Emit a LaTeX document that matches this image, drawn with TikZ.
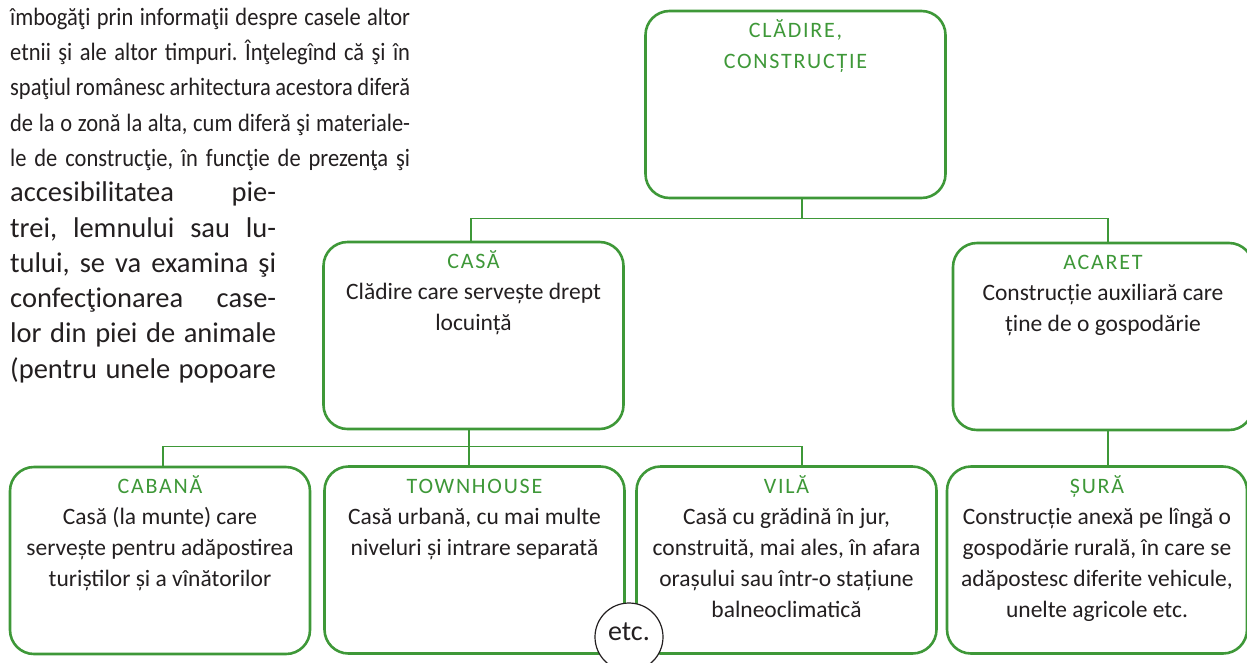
\documentclass[tikz,border=0pt]{standalone}
\usepackage{fontspec}
\setmainfont{Carlito}

\definecolor{leafgreen}{RGB}{62,152,56}
\definecolor{inkgray}{RGB}{35,31,32}

% one justified line of the running text
\newcommand{\fillline}[2]{\makebox[#1][s]{#2}}
% green title on top, definition below, all pinned to the top of the box
\newcommand{\termtext}[2]{\parbox[c][187pt][t]{290pt}{\centering\fontsize{23.5}{31}\selectfont
  \vspace*{5pt}\strut{\color{leafgreen}\fontsize{22}{31}\selectfont\addfontfeatures{LetterSpace=8}#1}\\#2}}

\begin{document}
\frenchspacing
\begin{tikzpicture}[x=1pt, y=-1pt,
    para/.style={inner sep=0pt, align=left, text=inkgray},
    termbox/.style={draw=leafgreen, line width=2.6pt, rounded corners=24pt, fill=white,
      inner xsep=5pt, inner ysep=0pt, text=inkgray},
    link/.style={draw=leafgreen, line width=1.6pt}]
    \useasboundingbox (0,0) rectangle (1247,662);

    % running text on the left
    \node[para, anchor=north west, xscale=0.9, font=\fontsize{25}{35.3}\selectfont] (intro-wide) at (10,0.3) {%
        \strut\fillline{444.4pt}{îmbogăţi prin informaţii despre casele altor}\\
        \fillline{444.4pt}{etnii şi ale altor timpuri. Înţelegînd că şi în}\\
        \fillline{444.4pt}{spaţiul românesc arhitectura acestora diferă}\\
        \fillline{444.4pt}{de la o zonă la alta, cum diferă şi materiale-}\\
        \fillline{444.4pt}{le de construcţie, în funcţie de prezenţa şi}};
    \node[para, anchor=north west, font=\fontsize{28.5}{35.3}\selectfont] (intro-narrow) at (10,176.8) {%
        \strut\fillline{266pt}{accesibilitatea pie-}\\
        \fillline{266pt}{trei, lemnului sau lu-}\\
        \fillline{266pt}{tului, se va examina şi}\\
        \fillline{266pt}{confecţionarea case-}\\
        \fillline{266pt}{lor din piei de animale}\\
        \fillline{266pt}{(pentru unele popoare}};

    % connectors
    \coordinate (bus-top) at (0,218.5);
    \coordinate (bus-low) at (0,446.5);

    \node[termbox] (cladire) at (795.5,104.5) {\parbox[c][187pt][t]{290pt}{\centering
        \vspace*{5pt}{\color{leafgreen}\fontsize{22}{31}\selectfont\addfontfeatures{LetterSpace=8}\strut CLĂDIRE,\\CONSTRUCȚIE\par}}};
    \node[termbox] (casa) at (473.5,335.5) {\termtext{CASĂ}{Clădire care servește drept\\locuință}};
    \node[termbox] (acaret) at (1103,336.5) {\termtext{ACARET}{Construcție auxiliară care\\ține de o gospodărie}};
    \node[termbox] (cabana) at (160,560.5) {\termtext{CABANĂ}{Casă (la munte) care\\servește pentru adăpostirea\\turiștilor și a vînătorilor}};
    \node[termbox] (townhouse) at (474.5,560) {\termtext{TOWNHOUSE}{Casă urbană, cu mai multe\\niveluri și intrare separată}};
    \node[termbox] (vila) at (786.5,560) {\termtext{VILĂ}{Casă cu grădină în jur,\\construită, mai ales, în afara\\orașului sau într-o stațiune\\balneoclimatică}};
    \node[termbox] (sura) at (1097,560) {\termtext{ȘURĂ}{Construcție anexă pe lîngă o\\gospodărie rurală, în care se\\adăpostesc diferite vehicule,\\unelte agricole etc.}};

    \draw[link] ([xshift=6.5pt]cladire.south) -- ([xshift=6.5pt]cladire.south |- bus-top);
    \draw[link] ([xshift=-2.5pt]casa.north) |- ([xshift=5pt]acaret.north |- bus-top) -- ([xshift=5pt]acaret.north);
    \draw[link] ([xshift=-4.5pt]casa.south) -- ([xshift=-4.5pt]casa.south |- townhouse.north);
    \draw[link] ([xshift=3pt]cabana.north) |- ([xshift=15.5pt]vila.north |- bus-low) -- ([xshift=15.5pt]vila.north);
    \draw[link] ([xshift=5pt]acaret.south) -- ([xshift=5pt]acaret.south |- sura.north);

    \node[circle, draw=inkgray, line width=1.2pt, fill=white, minimum size=68pt, inner sep=0pt,
        text=inkgray, font=\fontsize{28}{30}\selectfont, text height=15pt, text depth=9pt] (etc) at (629,637) {etc.};
\end{tikzpicture}
\end{document}
